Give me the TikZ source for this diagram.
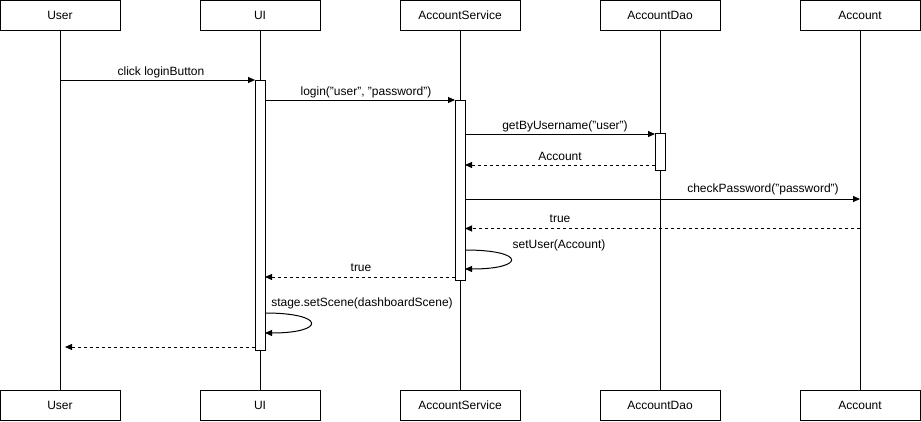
\documentclass[tikz,border=0pt]{standalone}
\usepackage{fontspec}
\setmainfont{Liberation Sans}
\usetikzlibrary{arrows.meta}
\begin{document}
\begin{tikzpicture}[x=1pt,y=-1pt,line width=1pt,
  font=\fontsize{12}{14}\selectfont,
  actor/.style={draw,fill=white,minimum width=120pt,minimum height=30pt,inner sep=0pt},
  actbar/.style={draw,fill=white,minimum width=10pt,inner sep=0pt},
  msg/.style={-{Triangle[length=7pt,width=6pt]}},
  ret/.style={-{Triangle[length=7pt,width=6pt]},dash pattern=on 3pt off 3pt},
  lbl/.style={inner sep=0pt,anchor=base}]
\useasboundingbox (0,0) rectangle (921,421);
% actors
\foreach \n/\x/\t in {u/60/User,ui/260/UI,as/460/AccountService,ad/660/AccountDao,ac/860/Account}{
  \node[actor] (\n top) at (\x,15) {\t};
  \node[actor] (\n bot) at (\x,405) {\t};
  \draw[line width=0.8pt] (\n top.south) -- (\n bot.north);
}
% activation bars
\node[actbar,minimum height=270pt] (uibar) at (260,215) {};
\node[actbar,minimum height=180pt] (asbar) at (460,190) {};
\node[actbar,minimum height=37pt] (adbar) at (660,151.5) {};
% coordinates
\coordinate (m1s) at (60,80);   \coordinate (m1e) at (255,80);
\coordinate (m2s) at (265,100); \coordinate (m2e) at (455,100);
\coordinate (m3s) at (465,134); \coordinate (m3e) at (655,134);
\coordinate (m4s) at (655,165); \coordinate (m4e) at (465,165);
\coordinate (m5s) at (465,199); \coordinate (m5e) at (860,199);
\coordinate (m6s) at (860,228.5); \coordinate (m6e) at (465,228.5);
\coordinate (m7s) at (465,250); \coordinate (m7e) at (465,269);
\coordinate (m8s) at (455,277); \coordinate (m8e) at (265,277);
\coordinate (m9s) at (265,313); \coordinate (m9e) at (265,333);
\coordinate (m10s) at (255,347); \coordinate (m10e) at (65,347);
% messages
\draw[msg] (m1s) -- (m1e);
\node[lbl] at (161,75) {click loginButton};
\draw[msg] (m2s) -- (m2e);
\node[lbl] at (366,95) {login("user", "password")};
\draw[msg] (m3s) -- (m3e);
\node[lbl] at (565,129) {getByUsername("user")};
\draw[ret] (m4s) -- (m4e);
\node[lbl] at (560,160) {Account};
\draw[msg] (m5s) -- (m5e);
\node[lbl] at (763,192) {checkPassword("password")};
\draw[ret] (m6s) -- (m6e);
\node[lbl] at (560,222) {true};
\draw[msg] (m7s) .. controls (526,250) and (526,269) .. (m7e);
\node[lbl] at (559,248) {setUser(Account)};
\draw[ret] (m8s) -- (m8e);
\node[lbl] at (361,271) {true};
\draw[msg] (m9s) .. controls (326,313) and (326,333) .. (m9e);
\node[lbl] at (362,306) {stage.setScene(dashboardScene)};
\draw[ret] (m10s) -- (m10e);
\end{tikzpicture}
\end{document}
